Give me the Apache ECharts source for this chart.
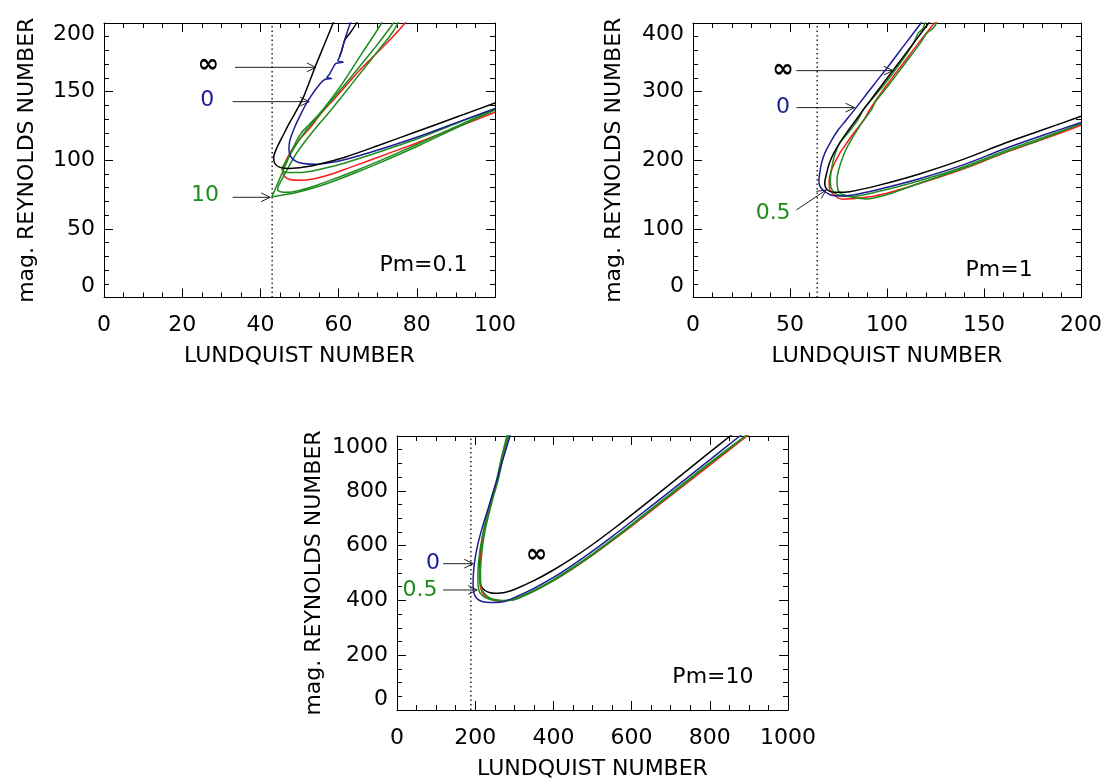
<!DOCTYPE html>
<html>
<head>
<meta charset="utf-8">
<script src="https://cdn.jsdelivr.net/npm/echarts/dist/echarts.min.js"></script>
<style>
  html, body { margin: 0; padding: 0; background: #fff; }
  #chart { width: 1105px; height: 781px; }
</style>
</head>
<body>
<div id="chart"></div>
<script>
// axis ranges for the three panels (Pm = 0.1, 1, 10)
const xMax = [100, 200, 1000]
const xStep = [20, 50, 200]
const xMinor = [4, 5, 4]
const yMax = [200, 400, 1000]
const yStep = [50, 100, 200]
const yMinor = [5, 5, 4]
const critical = [43, 64, 189]
const pmText = ['Pm=0.1', 'Pm=1', 'Pm=10']

// Pm = 0.1 : [Lundquist, mag. Reynolds]
const pm01Inf = [[59.3,205],[58.6,200],[56.3,184],[54,168],[51,146],[48.8,134],[47.2,126],[45.6,117],[44.2,109],[43.4,102],[43.7,97.5],[45,94.8],[47,94],[50,94.6],[53,95.8],[57,98.5],[62,102.6],[70,110.6],[80,120.9],[90,131.3],[100,141.7]]
const pm01InfB = [[65.3,205],[64.6,200],[63,193],[61.6,187.6],[60.8,180],[60.2,175]]
const pm01Zero = [[63.7,205],[63.3,202],[62.4,195],[61.6,188],[60.8,180],[60.2,175],[59.8,172.5],[61.2,171.5],[59.3,170.5],[58.4,166.5],[57.5,162],[57,160.5],[58.2,159.5],[56.6,159],[55.2,155.5],[52.3,144],[50.4,134],[48.6,123],[47.5,114],[47.3,108],[47.7,103],[49,99.3],[51,97.6],[54,97],[58,98.3],[62,100.8],[68,105.6],[80,116.8],[90,127.2],[100,137.6]]
const pm01Red = [[77.6,205],[77,200],[71.5,183],[65.5,166],[59,145],[55.5,134],[52.8,124],[50,115],[47.8,106.5],[46.3,98],[45.7,92],[46.2,88],[47.6,86],[50,85.4],[53.5,86.3],[58,89.8],[63,94.8],[68,100],[80,112.6],[90,123.8],[100,135]]
const pm01Ten = [[71.5,205],[71,200],[66,178],[61,156],[56,137],[52.5,126],[50.5,120],[48.5,110],[46.5,97],[45,87],[43.8,79],[43.1,74.5],[42.9,73.4],[44,73.8],[46,74.8],[48.4,76],[52,78.5],[58,84],[64,90.5],[70,97.5],[80,110],[90,123.5],[100,136.5]]
const pm01GreenB = [[75.8,205],[75.2,200],[73.5,192],[71,183],[66,165],[61,147],[57,133],[54,123],[51.5,114],[49,104],[47,94],[45.5,86],[44.6,81],[44.4,78.5],[45.2,77],[46.8,76.6],[50,78],[53,80.5],[58,85.5],[64,92],[70,99],[80,111.5],[90,124.5],[100,137.2]]
const pm01GreenC = [[74.5,205],[74,200],[69,181],[63,160],[58,143],[54.5,131],[51.5,121],[49.5,113],[47.6,104],[46.2,97.5],[45.5,94],[45.8,91.8],[47.2,91],[50,91],[53,92],[58,95.2],[63,99.3],[68,103.8],[80,115.5],[90,126.8],[100,137.8]]

// Pm = 1
const pm1Zero = [[118.8,405],[117.6,400],[109.5,370],[101.5,340],[93.2,310],[85,280],[79,258.7],[74.8,244],[71.2,228],[67.9,210],[66.2,195],[65.3,181],[64.9,169],[65.5,162],[67,156.7],[69.5,151.5],[72.1,148.5],[76,148],[82.4,149.4],[95,157],[116.7,173],[140,194],[160,216],[180,236],[200,255]]
const pm1Inf = [[122.7,405],[121.5,400],[113.5,370],[105.5,340],[97.5,310],[89.5,280],[84,258.7],[80.2,244],[76.2,228],[72.5,210],[70.2,195],[68.8,180],[67.9,167],[68.4,160],[70.2,155],[74,153.2],[80.7,154.2],[95,163],[116.7,180],[140,202],[160,224],[180,244],[200,264]]
const pm1Red = [[125.8,405],[124.4,400],[116,370],[108,340],[100,310],[92.5,280],[88,258.7],[83,240],[78,220],[75.6,210],[72,190],[70.4,176],[70.2,165],[70.6,156.7],[72.5,150],[74.5,145.5],[77.3,143.1],[82,144],[89.3,146],[100,152],[116.7,166],[140,188],[160,210],[180,230],[200,251]]
const pm1Half = [[120.5,405],[119.5,400],[118.5,392],[116,385],[113.5,370],[106.5,340],[98.5,310],[91,285],[87.6,273.3],[85,258.7],[80,240],[75.6,224.8],[72.8,205],[71.3,186],[70.8,170],[71.2,160],[73,152],[76,148.5],[80.7,147],[95,154],[116.7,170],[140,191],[160,213],[180,233],[200,253]]
const pm1GreenB = [[126.5,405],[125.5,400],[124,393],[120.5,385],[117,370],[109,340],[101,310],[94,285],[91.9,273.3],[86,250],[80,222],[77.3,205],[75,185],[74.2,171],[74.7,157],[75.5,153],[76.5,151],[78.1,149.4],[82,146],[89.3,143.5],[100,150],[116.7,166.5],[140,189],[160,211],[180,231],[200,253.5]]

// Pm = 10
const pm10Zero = [[291,1010],[289,1000],[272,920],[256,841],[243,781],[230,721],[217,660],[206,600],[199,545],[195.5,500],[194.5,460],[196,432],[200,416],[207,404],[216,397],[230,393],[250,392],[275,396],[300,410],[350,444],[400,484],[450,530],[500,580],[550,633],[600,688],[700,800],[800,913],[877,1000],[885,1010]]
const pm10Inf = [[286,1010],[284,1000],[268,920],[256,841],[244,781],[233,721],[223,660],[216,600],[212,545],[211,500],[212,470],[216,450],[224,437],[236,429],[250,426],[265,427],[280,431],[300,440],[350,472],[400,511],[450,555],[500,604],[550,657],[600,712],[700,826],[800,941],[852,1000],[860,1010]]
const pm10Red = [[284.5,1010],[283,1000],[269,920],[257,841],[245,781],[234,721],[224,660],[217,600],[213,545],[211.5,500],[212,465],[215,440],[222,420],[233,408],[248,400],[265,398],[285,400],[300,404],[350,434],[400,472],[450,516],[500,565],[550,617],[600,671],[700,782],[800,894],[898,1003],[905,1010]]
const pm10Half = [[283,1010],[281,1000],[267,920],[255,841],[243,781],[232,721],[222,660],[214,600],[209,545],[207,500],[207,465],[209,440],[215,422],[226,410],[242,402],[260,399],[280,400],[300,405],[350,437],[400,476],[450,521],[500,570],[550,623],[600,678],[700,790],[800,903],[890,1000],[899,1010]]
const pm10GreenB = [[287,1010],[285,1000],[271,920],[259,841],[247,781],[236,721],[226,660],[219,600],[215,545],[213.5,500],[214,465],[217,442],[224,424],[235,411],[250,403],[268,400],[285,400],[300,402],[350,433],[400,472],[450,517],[500,566],[550,619],[600,674],[700,786],[800,899],[892,1000],[901,1010]]

const colors = { inf: '#000000', zero: '#1c1c96', red: '#ff1a1a', green: '#1f8c1f' }
const FONT = 'DejaVu Sans'

const curves = [
  [['red', pm01Red], ['green', pm01GreenC], ['green', pm01GreenB], ['green', pm01Ten], ['inf', pm01InfB], ['zero', pm01Zero], ['inf', pm01Inf]],
  [['red', pm1Red], ['green', pm1GreenB], ['green', pm1Half], ['inf', pm1Inf], ['zero', pm1Zero]],
  [['inf', pm10Inf], ['red', pm10Red], ['green', pm10GreenB], ['green', pm10Half], ['zero', pm10Zero]]
]

// annotations, in data coordinates of each panel
const notes = [
  [['∞', 26.7, 169.4, 'inf'], ['0', 26.4, 143.4, 'zero'], ['10', 25.8, 74.7, 'green']],
  [['∞', 46.4, 330.6, 'inf'], ['0', 46.4, 276.7, 'zero'], ['0.5', 41.3, 122.7, 'green']],
  [['0', 92, 534, 'zero'], ['0.5', 59, 437, 'green'], ['∞', 357, 564, 'inf']]
]
const arrows = [
  [[33.5, 167.7, 54.2, 167.7], [32.9, 142.7, 52.5, 142.7], [32.9, 73, 42.5, 73]],
  [[53.3, 330.6, 103, 330.6], [53.3, 276.7, 83.3, 276.7], [53.3, 127.6, 68.7, 156.7]],
  [[118, 534, 195, 534], [118, 438, 205, 438]]
]
const pmPos = [[81.7, 23.7], [157.8, 40], [808, 119]]

const grids = [
  { left: 104, top: 23, width: 391, height: 274.5 },
  { left: 693, top: 23, width: 389, height: 274.5 },
  { left: 397, top: 436, width: 391, height: 277 }
]
const yNameGap = [66, 68, 72]

const chart = echarts.init(document.getElementById('chart'))

const xAxes = []
const yAxes = []
const series = []
const plain = v => String(v)

grids.forEach((g, i) => {
  const tick = { show: true, inside: true, length: 9, lineStyle: { color: '#000' } }
  const common = { type: 'value', gridIndex: i, splitLine: { show: false },
    axisLine: { show: true, onZero: false, lineStyle: { color: '#000', width: 1 } }, axisTick: tick }
  xAxes.push(Object.assign({}, common, {
    position: 'bottom', min: 0, max: xMax[i], interval: xStep[i],
    minorTick: { show: true, splitNumber: xMinor[i], length: 5, lineStyle: { color: '#000' } },
    axisLabel: { fontFamily: FONT, fontSize: 22, color: '#000', margin: 17, formatter: plain },
    name: 'LUNDQUIST NUMBER', nameLocation: 'middle', nameGap: 48,
    nameTextStyle: { fontFamily: FONT, fontSize: 22, color: '#000' }
  }))
  xAxes.push(Object.assign({}, common, {
    position: 'top', min: 0, max: xMax[i], interval: xStep[i],
    minorTick: { show: true, splitNumber: xMinor[i], length: 5, lineStyle: { color: '#000' } },
    axisLabel: { show: false }
  }))
  yAxes.push(Object.assign({}, common, {
    position: 'left', min: 0, max: yMax[i], interval: yStep[i],
    minorTick: { show: true, splitNumber: yMinor[i], length: 5, lineStyle: { color: '#000' } },
    axisLabel: { fontFamily: FONT, fontSize: 22, color: '#000', margin: 9, formatter: plain,
      verticalAlignMinLabel: 'bottom', verticalAlignMaxLabel: 'top' },
    name: 'mag. REYNOLDS NUMBER', nameLocation: 'middle', nameGap: yNameGap[i],
    nameTextStyle: { fontFamily: FONT, fontSize: 22, color: '#000' }
  }))
  yAxes.push(Object.assign({}, common, {
    position: 'right', min: 0, max: yMax[i], interval: yStep[i],
    minorTick: { show: true, splitNumber: yMinor[i], length: 5, lineStyle: { color: '#000' } },
    axisLabel: { show: false }
  }))

  // dotted critical line
  series.push({
    type: 'line', xAxisIndex: 2 * i, yAxisIndex: 2 * i, symbol: 'none', silent: true,
    data: [[critical[i], 0], [critical[i], yMax[i]]],
    lineStyle: { color: '#000', width: 1.3, type: [1.5, 3] }
  })
  curves[i].forEach(([key, pts]) => {
    series.push({
      type: 'line', xAxisIndex: 2 * i, yAxisIndex: 2 * i, symbol: 'none', silent: true,
      smooth: 0.3, clip: true, data: pts,
      lineStyle: { color: colors[key], width: 1.5 }
    })
  })
})

chart.setOption({
  animation: false,
  backgroundColor: '#fff',
  grid: grids,
  xAxis: xAxes,
  yAxis: yAxes,
  series: series
})

// labels and arrows
const graphic = []
function px(i, x, y) {
  return chart.convertToPixel({ xAxisIndex: 2 * i, yAxisIndex: 2 * i }, [x, y])
}
grids.forEach((g, i) => {
  notes[i].forEach(([t, x, y, key]) => {
    const p = px(i, x, y)
    const isInf = t === '∞'
    graphic.push({
      type: 'text', x: p[0], y: p[1], silent: true,
      style: { text: t, fill: colors[key], align: 'center', verticalAlign: 'middle',
        font: (isInf ? 'bold 26px ' : '22px ') + FONT }
    })
  })
  arrows[i].forEach(([x1, y1, x2, y2]) => {
    const a = px(i, x1, y1)
    const b = px(i, x2, y2)
    const dx = b[0] - a[0], dy = b[1] - a[1]
    const len = Math.sqrt(dx * dx + dy * dy)
    const ux = dx / len, uy = dy / len
    const hl = 10, ang = 0.45
    const c = Math.cos(ang), s = Math.sin(ang)
    const l = [b[0] - hl * (ux * c - uy * s), b[1] - hl * (uy * c + ux * s)]
    const r = [b[0] - hl * (ux * c + uy * s), b[1] - hl * (uy * c - ux * s)]
    graphic.push({ type: 'polyline', silent: true, shape: { points: [a, b] },
      style: { stroke: '#222', lineWidth: 1, fill: null } })
    graphic.push({ type: 'polyline', silent: true, shape: { points: [l, b, r] },
      style: { stroke: '#222', lineWidth: 1, fill: null } })
  })
  const pp = px(i, pmPos[i][0], pmPos[i][1])
  graphic.push({
    type: 'text', x: pp[0], y: pp[1], silent: true,
    style: { text: pmText[i], fill: '#000', align: 'center', verticalAlign: 'middle', font: '22px ' + FONT }
  })
})
chart.setOption({ graphic: graphic })
</script>
</body>
</html>
